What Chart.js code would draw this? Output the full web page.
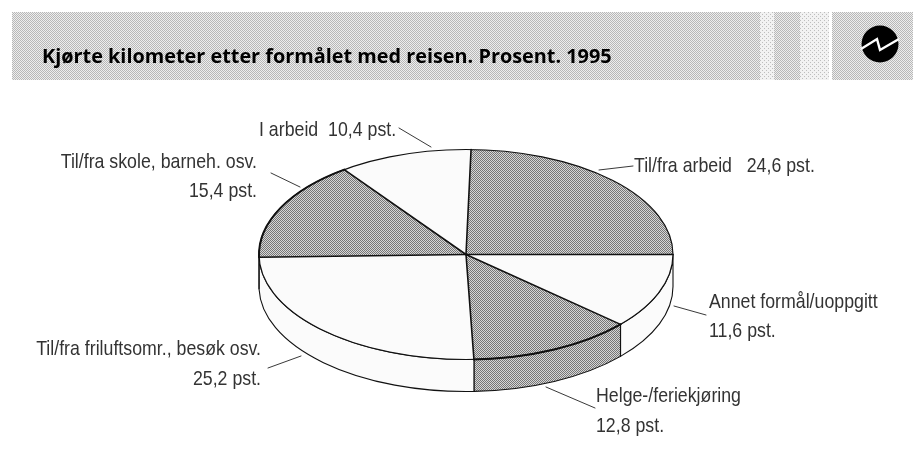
<!DOCTYPE html>
<html><head><meta charset="utf-8">
<style>html,body{margin:0;padding:0;background:#fff}canvas{display:block}</style>
<script src="https://cdn.jsdelivr.net/npm/chart.js@4"></script></head>
<body><canvas id="c" width="919" height="456"></canvas>
<script>
const titleText = 'Kjørte kilometer etter formålet med reisen. Prosent. 1995';
const categories = ['Til/fra arbeid','Annet formål/uoppgitt','Helge-/feriekjøring','Til/fra friluftsomr., besøk osv.','Til/fra skole, barneh. osv.','I arbeid'];
const shares = [24.6,11.6,12.8,25.2,15.4,10.4];
const shaded = [true,false,true,false,true,false];

const ELL = {cx:466, cy:254.5, rx:207, ry:105, depth:32};
function checker(a,b){
  const p=document.createElement('canvas');p.width=p.height=2;
  const g=p.getContext('2d');g.fillStyle=b;g.fillRect(0,0,2,2);g.fillStyle=a;g.fillRect(0,0,1,1);g.fillRect(1,1,1,1);
  return g.canvas;
}
const ctx0=document.getElementById('c').getContext('2d');
const darkPat=ctx0.createPattern(checker('#767676','#d6d6d6'),'repeat');
const lightPat=ctx0.createPattern(checker('#b8b8b8','#eeeeee'),'repeat');
const paleCanvas=document.createElement('canvas');paleCanvas.width=paleCanvas.height=4;
(function(){const g=paleCanvas.getContext('2d');g.fillStyle='#f2f2f2';g.fillRect(0,0,4,4);g.fillStyle='#bdbdbd';g.fillRect(0,0,1,1);g.fillRect(2,2,1,1);})();
const palePat=ctx0.createPattern(paleCanvas,'repeat');
const WHITE='#fbfbfb';

const labelLayout=[
 {lines:['Til/fra arbeid   24,6 pst.'],x:634,y:[172],align:'left',lead:[[599,170],[633,166]]},
 {lines:['Annet formål/uoppgitt','11,6 pst.'],x:709,y:[308,337],align:'left',lead:[[674,306],[706,315]]},
 {lines:['Helge-/feriekjøring','12,8 pst.'],x:596,y:[402,432],align:'left',lead:[[546,387],[595,408]]},
 {lines:['Til/fra friluftsomr., besøk osv.','25,2 pst.'],x:261,y:[355,385],align:'right',lead:[[268,368],[301,356]]},
 {lines:['Til/fra skole, barneh. osv.','15,4 pst.'],x:257,y:[168,197],align:'right',lead:[[271,173],[300,187]]},
 {lines:['I arbeid  10,4 pst.'],x:259,y:[136],align:'left',lead:[[399,128],[431,147]]}
];
const LABEL_CONDENSE=0.845;

const pie3d={
 id:'pie3d',
 beforeDraw(chart){
  const c=chart.ctx;c.save();
  c.fillStyle=lightPat;c.fillRect(12,12,901,68);
  c.fillStyle=palePat;c.fillRect(800,12,30,68);c.fillRect(760,12,14,68);
  c.fillStyle='#fff';c.fillRect(829,12,3,68);
  // logo
  c.fillStyle='#000';c.beginPath();c.arc(880,44,18.5,0,Math.PI*2);c.fill();
  c.strokeStyle='#fff';c.lineWidth=2.4;c.beginPath();c.moveTo(861,49);c.lineTo(877,39);c.lineTo(880,50);c.lineTo(899,39);c.stroke();
  c.restore();
 },
 beforeDatasetsDraw(chart){
  const c=chart.ctx, arcs=chart.getDatasetMeta(0).data, E=ELL;
  c.save();
  arcs.forEach((a,i)=>{
    const s=Math.max(a.startAngle,0), e=Math.min(a.endAngle,Math.PI);
    if(e<=s) return;
    c.beginPath();
    c.ellipse(E.cx,E.cy,E.rx,E.ry,0,s,e);
    c.ellipse(E.cx,E.cy+E.depth,E.rx,E.ry,0,e,s,true);
    c.closePath();
    c.fillStyle=shaded[i]?darkPat:WHITE;c.fill();
    c.strokeStyle='#111';c.lineWidth=1.1;c.stroke();
  });
  c.restore();
  const r=arcs[0].outerRadius,sx=E.rx/r,sy=E.ry/r;
  c.save();
  c.imageSmoothingEnabled=false;
  c.translate(E.cx,E.cy);c.scale(sx,sy);c.translate(-arcs[0].x,-arcs[0].y);
  darkPat.setTransform(c.getTransform().inverse());
 },
 afterDatasetsDraw(chart){
  const c=chart.ctx, arcs=chart.getDatasetMeta(0).data, E=ELL;
  c.restore();
  darkPat.setTransform(new DOMMatrix());
  c.save();
  c.strokeStyle='#111';c.lineCap='round';
  c.lineWidth=1.2;c.beginPath();c.ellipse(E.cx,E.cy,E.rx,E.ry,0,0,Math.PI*2);c.stroke();
  arcs.forEach((a,i)=>{
    c.lineWidth=1.6;c.beginPath();c.moveTo(E.cx,E.cy);
    c.lineTo(E.cx+E.rx*Math.cos(a.startAngle),E.cy+E.ry*Math.sin(a.startAngle));c.stroke();
    if(shaded[i]&&a.startAngle>0){c.lineWidth=2;c.beginPath();c.ellipse(E.cx,E.cy,E.rx,E.ry,0,a.startAngle,a.endAngle);c.stroke();}
  });
  // labels + leaders
  c.fillStyle='#333';c.font='21px "Liberation Sans"';c.textBaseline='alphabetic';
  labelLayout.forEach(l=>{
    c.textAlign=l.align;
    l.lines.forEach((t,j)=>{
      c.save();c.translate(l.x,l.y[j]);c.scale(LABEL_CONDENSE,1);c.fillText(t,0,0);c.restore();
    });
    c.strokeStyle='#222';c.lineWidth=0.9;c.beginPath();c.moveTo(...l.lead[0]);c.lineTo(...l.lead[1]);c.stroke();
  });
  c.restore();
 }
};

new Chart(ctx0,{
 type:'pie',
 data:{labels:categories,datasets:[{data:shares,backgroundColor:shaded.map(s=>s?darkPat:WHITE),borderWidth:0,clip:false}]},
 options:{responsive:false,animation:false,rotation:1.4,
  layout:{padding:{left:42}},
  plugins:{legend:{display:false},tooltip:{enabled:false},
   title:{display:true,text:titleText,align:'start',color:'#000',font:{family:'"Open Sans"',size:19.85,weight:'700'},padding:{top:45,bottom:4}}}},
 plugins:[pie3d]
});
</script></body></html>
